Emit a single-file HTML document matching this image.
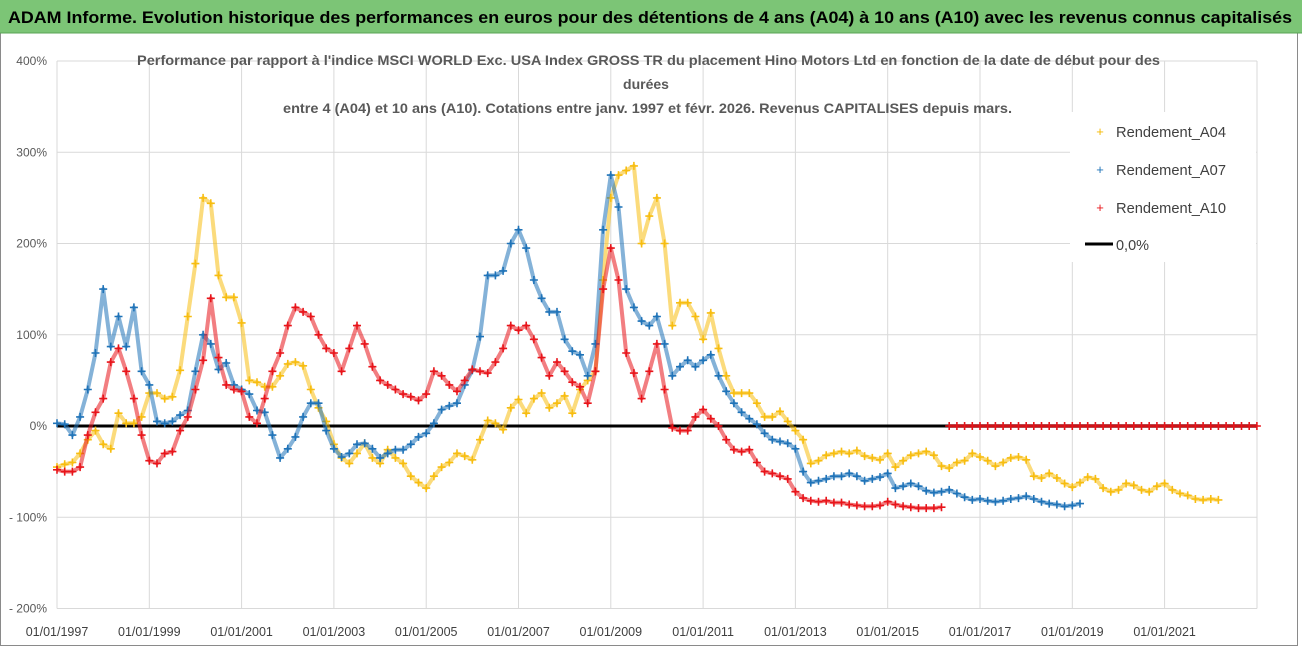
<!DOCTYPE html>
<html><head><meta charset="utf-8"><style>
html,body{margin:0;padding:0;background:#fff;}
svg{display:block;font-family:"Liberation Sans",sans-serif;}
</style></head><body>
<svg id="chart" width="1302" height="647" viewBox="0 0 1302 647" xmlns="http://www.w3.org/2000/svg">
<rect x="0" y="0" width="1302" height="647" fill="#fff"/>
<rect x="0.5" y="0.5" width="1297" height="645" fill="none" stroke="#8a8a8a"/>
<rect x="0" y="0" width="1302" height="33" fill="#7cc576"/>
<line x1="0" y1="33" x2="1302" y2="33" stroke="#5aa455" stroke-width="1"/>
<text x="8" y="23" font-size="17" font-weight="bold" fill="#000" textLength="1284" lengthAdjust="spacingAndGlyphs">ADAM Informe. Evolution historique des performances en euros pour des détentions de 4 ans (A04) à 10 ans (A10) avec les revenus connus capitalisés</text>
<g id="grid"></g>
<g id="series"></g>
<g id="axes"></g>
<rect x="1070" y="112" width="186" height="150" fill="#fff"/>
<g font-size="15" fill="#404040">
 <g><text x="1100" y="136" fill="#f5b800" font-size="13" text-anchor="middle">+</text><text x="1116" y="137" textLength="110" lengthAdjust="spacingAndGlyphs">Rendement_A04</text></g>
 <g><text x="1100" y="174" fill="#1f73b8" font-size="13" text-anchor="middle">+</text><text x="1116" y="175" textLength="110" lengthAdjust="spacingAndGlyphs">Rendement_A07</text></g>
 <g><text x="1100" y="212" fill="#e8141a" font-size="13" text-anchor="middle">+</text><text x="1116" y="213" textLength="110" lengthAdjust="spacingAndGlyphs">Rendement_A10</text></g>
 <g><line x1="1085" y1="244" x2="1113" y2="244" stroke="#000" stroke-width="3"/><text x="1116" y="250" textLength="33" lengthAdjust="spacingAndGlyphs">0,0%</text></g>
</g>
<g font-size="14" font-weight="bold" fill="#595959">
 <text x="137" y="65" textLength="1023" lengthAdjust="spacingAndGlyphs">Performance par rapport à l'indice MSCI WORLD Exc. USA Index GROSS TR  du placement Hino Motors Ltd en fonction de la date de début pour des</text>
 <text x="646" y="89" text-anchor="middle">durées</text>
 <text x="283" y="113" textLength="729" lengthAdjust="spacingAndGlyphs">entre 4 (A04) et 10 ans (A10). Cotations entre janv. 1997 et févr. 2026. Revenus CAPITALISES depuis mars.</text>
</g>
</svg>
<script>
// data: bimonthly values (%) starting 01/1997, one value every 2 months
const startYear = 1997;
const stepMonths = 2;
const yTicks = [400, 300, 200, 100, 0, -100, -200];
const yTickLabels = ["400%", "300%", "200%", "100%", "0%", "- 100%", "- 200%"];
const xTickYears = [1997, 1999, 2001, 2003, 2005, 2007, 2009, 2011, 2013, 2015, 2017, 2019, 2021];
const xTickLabels = ["01/01/1997","01/01/1999","01/01/2001","01/01/2003","01/01/2005","01/01/2007","01/01/2009","01/01/2011","01/01/2013","01/01/2015","01/01/2017","01/01/2019","01/01/2021"];
const a04 = [-45,-42,-40,-30,-15,-5,-20,-25,14,3,3,10,
 36,36,30,32,61,120,178,250,244,165,141,141,
 113,50,48,43,43,55,68,70,66,40,20,5,
 -20,-35,-41,-30,-19,-35,-41,-26,-35,-41,-55,-62,
 -68,-55,-45,-40,-30,-33,-37,-15,6,3,-4,20,
 29,14,30,36,20,25,33,14,40,50,60,160,
 250,275,280,285,200,230,250,200,110,135,135,120,
 95,124,85,55,36,36,36,25,10,10,16,5,
 -5,-15,-41,-38,-32,-30,-28,-30,-27,-33,-35,-37,
 -30,-45,-38,-32,-30,-28,-32,-44,-46,-40,-38,-30,
 -34,-38,-44,-40,-35,-34,-37,-55,-57,-52,-57,-63,
 -67,-62,-56,-58,-68,-72,-70,-63,-65,-70,-72,-66,
 -63,-70,-74,-76,-80,-81,-80,-81];
const a07 = [3,2,-10,10,40,80,150,87,120,87,130,60,
 45,5,3,5,12,17,60,100,90,62,69,45,
 40,35,17,15,-10,-35,-25,-12,10,25,25,-5,
 -25,-34,-30,-20,-19,-25,-35,-30,-26,-26,-20,-12,
 -8,3,18,22,25,45,61,98,165,165,170,200,
 215,195,160,140,125,125,95,82,78,55,90,215,
 275,240,150,130,115,110,120,90,55,65,72,65,
 72,78,55,38,25,15,8,2,-8,-15,-17,-19,
 -25,-50,-62,-60,-58,-55,-55,-52,-55,-60,-58,-56,
 -52,-68,-66,-63,-66,-71,-73,-72,-70,-74,-78,-81,
 -80,-82,-83,-82,-80,-79,-77,-80,-83,-85,-86,-88,
 -87,-85];
const a10 = [-48,-50,-50,-45,-10,15,30,70,85,60,30,-10,
 -38,-41,-30,-28,-5,10,40,72,140,75,45,40,
 38,10,3,30,60,80,110,130,125,120,100,85,
 80,60,85,110,90,65,50,45,40,35,32,28,
 35,60,55,45,38,50,62,60,58,70,85,110,
 105,110,95,75,55,70,60,48,43,25,60,150,
 195,160,80,58,30,60,90,40,-2,-5,-5,10,
 18,8,0,-15,-26,-28,-26,-40,-50,-52,-55,-58,
 -72,-79,-82,-83,-82,-84,-84,-86,-87,-88,-88,-87,
 -83,-86,-88,-89,-90,-90,-90,-89,
 0,0,0,0,0,0,0,0,0,0,0,0,0,0,0,0,0,0,0,0,0,0,0,0,0,0,0,0,0,0,0,0,0,0,0,0,0,0,0,0,0];

const NS = "http://www.w3.org/2000/svg";
const X0 = 57, PXY = 46.15, Y0 = 426, PXV = 0.9125;
function xOfYear(yr){ return X0 + (yr - startYear) * PXY; }
function xOfIndex(i){ return xOfYear(startYear + i * stepMonths / 12); }
function yOf(v){ return Y0 - v * PXV; }
function mk(tag, attrs, parent){ const e = document.createElementNS(NS, tag); for (const k in attrs) e.setAttribute(k, attrs[k]); parent.appendChild(e); return e; }

const grid = document.getElementById('grid');
const axes = document.getElementById('axes');
const series = document.getElementById('series');
const xRight = 1257, yTop = yOf(400), yBot = yOf(-200);

yTicks.forEach((v, i) => {
  const l = mk('line', {x1: X0, x2: xRight, y1: yOf(v), y2: yOf(v), stroke: '#d9d9d9', 'stroke-width': 1}, grid);
  
  
  const t = mk('text', {x: 47, y: yOf(v) + 4, 'text-anchor': 'end', 'font-size': 12, fill: '#595959'}, axes);
  t.textContent = yTickLabels[i];
  
  
});
xTickYears.forEach((yr, i) => {
  const x = xOfYear(yr);
  const l = mk('line', {x1: x, x2: x, y1: yTop, y2: yBot, stroke: '#d9d9d9', 'stroke-width': 1}, grid);
  
  
  const t = mk('text', {x: x, y: 636, 'text-anchor': 'middle', 'font-size': 12.5, fill: '#404040'}, axes);
  t.textContent = xTickLabels[i];
  
  
});
const rl = mk('line', {x1: xRight, x2: xRight, y1: yTop, y2: yBot, stroke: '#d9d9d9'}, grid);



const zl = mk('line', {x1: X0, x2: xRight, y1: yOf(0), y2: yOf(0), stroke: '#000', 'stroke-width': 3}, series);



function drawSeries(vals, color, name){
  const g = mk('g', {}, series);
  
  
  // build polyline segments, breaking where series drops into the flat zero tail
  const segs = [[]];
  vals.forEach((v, i) => {
    if (i > 0 && v === 0 && vals[i-1] < -50) segs.push([]);
    segs[segs.length-1].push(xOfIndex(i).toFixed(1) + ',' + yOf(v).toFixed(1));
  });
  segs.forEach(s => {
    const pl = mk('polyline', {points: s.join(' '), fill: 'none', stroke: color, 'stroke-width': 4, 'stroke-opacity': 0.55, 'stroke-linejoin': 'round'}, g);
    
    
  });
  vals.forEach((v, i) => {
    const x = xOfIndex(i), y = yOf(v);
    const p = mk('path', {d: `M${(x-4).toFixed(1)} ${y.toFixed(1)}h8M${x.toFixed(1)} ${(y-4).toFixed(1)}v8`, stroke: color, 'stroke-width': 1.6}, g);
    
    
  });
}
drawSeries(a04, '#f7bd10', 'series-a04');
drawSeries(a07, '#1f73b8', 'series-a07');
drawSeries(a10, '#e8141a', 'series-a10');
</script>
</body></html>
